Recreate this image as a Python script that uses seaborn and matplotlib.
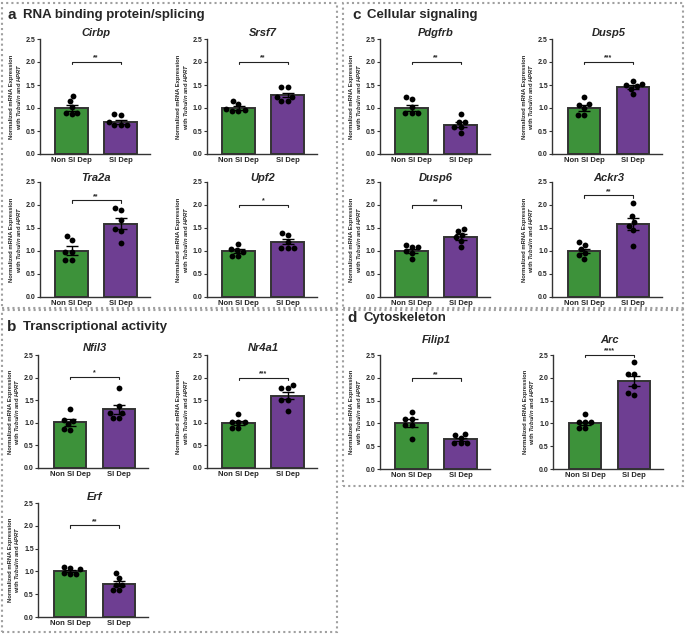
import matplotlib
matplotlib.use("Agg")
import pandas as pd
import matplotlib.pyplot as plt
from matplotlib.patches import Rectangle
from matplotlib.ticker import FormatStrFormatter
import seaborn as sns

# --- data ---
GROUPS = ["Non SI Dep", "SI Dep"]

NON_PTS = {
    "Cirbp": [1.26, 1.15, 1.03, 0.87, 0.90, 0.90],
    "Srsf7": [1.15, 1.08, 0.93, 0.94, 0.95, 0.97],
    "Tra2a": [1.32, 1.23, 0.98, 0.98, 0.81, 0.81],
    "Upf2": [1.16, 1.05, 1.03, 0.98, 0.89, 0.89],
    "Nfil3": [1.30, 1.07, 1.03, 0.97, 0.85, 0.86],
    "Nr4a1": [1.19, 1.02, 1.02, 1.02, 0.89, 0.89],
    "Erf": [1.10, 1.08, 1.05, 0.96, 0.94, 0.95],
    "Pdgfrb": [1.20, 1.24, 1.02, 0.89, 0.89, 0.89],
    "Dusp5": [1.24, 1.08, 1.06, 1.00, 0.85, 0.85],
    "Dusp6": [1.14, 1.09, 1.09, 1.00, 0.96, 0.83],
    "Ackr3": [1.19, 1.14, 1.05, 0.96, 0.91, 0.83],
    "Filip1": [1.24, 1.09, 1.09, 0.96, 0.96, 0.66],
    "Arc": [1.20, 1.04, 1.04, 1.04, 0.89, 0.89],
}
SI_PTS = {
    "Cirbp": [0.85, 0.86, 0.70, 0.63, 0.63, 0.63],
    "Srsf7": [1.45, 1.45, 1.25, 1.25, 1.16, 1.16],
    "Tra2a": [1.90, 1.93, 1.68, 1.47, 1.43, 1.18],
    "Upf2": [1.40, 1.34, 1.20, 1.06, 1.06, 1.06],
    "Nfil3": [1.78, 1.37, 1.21, 1.21, 1.10, 1.10],
    "Nr4a1": [1.83, 1.76, 1.78, 1.50, 1.50, 1.27],
    "Erf": [0.96, 0.85, 0.71, 0.71, 0.60, 0.60],
    "Pdgfrb": [0.86, 0.70, 0.70, 0.58, 0.58, 0.45],
    "Dusp5": [1.58, 1.52, 1.50, 1.47, 1.42, 1.30],
    "Dusp6": [1.48, 1.43, 1.34, 1.30, 1.22, 1.09],
    "Ackr3": [2.04, 1.76, 1.64, 1.55, 1.45, 1.10],
    "Filip1": [0.77, 0.75, 0.69, 0.56, 0.56, 0.56],
    "Arc": [2.35, 2.08, 2.08, 1.81, 1.62, 1.66],
}
MEANS = {
    "Cirbp": [1.00, 0.69], "Srsf7": [1.00, 1.28], "Tra2a": [1.01, 1.59],
    "Upf2": [1.00, 1.20], "Nfil3": [1.01, 1.30], "Nr4a1": [1.00, 1.60],
    "Erf": [1.00, 0.73], "Pdgfrb": [1.00, 0.64], "Dusp5": [1.00, 1.46],
    "Dusp6": [1.00, 1.30], "Ackr3": [1.00, 1.58], "Filip1": [1.01, 0.65],
    "Arc": [1.00, 1.92],
}
SEMS = {
    "Cirbp": [0.06, 0.04], "Srsf7": [0.04, 0.05], "Tra2a": [0.09, 0.12],
    "Upf2": [0.04, 0.05], "Nfil3": [0.07, 0.10], "Nr4a1": [0.04, 0.08],
    "Erf": [0.02, 0.06], "Pdgfrb": [0.06, 0.06], "Dusp5": [0.06, 0.04],
    "Dusp6": [0.04, 0.06], "Ackr3": [0.05, 0.13], "Filip1": [0.08, 0.04],
    "Arc": [0.04, 0.11],
}
STARS = {
    "Cirbp": "**", "Srsf7": "**", "Tra2a": "**", "Upf2": "*", "Nfil3": "*",
    "Nr4a1": "***", "Erf": "**", "Pdgfrb": "**", "Dusp5": "***", "Dusp6": "**",
    "Ackr3": "**", "Filip1": "**", "Arc": "****",
}
BRACKET_Y = {
    "Cirbp": 2.01, "Srsf7": 2.01, "Tra2a": 2.10, "Upf2": 2.01, "Nfil3": 2.01,
    "Nr4a1": 2.0, "Erf": 2.01, "Pdgfrb": 2.0, "Dusp5": 2.0, "Dusp6": 1.99,
    "Ackr3": 2.21, "Filip1": 1.99, "Arc": 2.5,
}
PANELS = [
    ("a", "RNA binding protein/splicing"),
    ("b", "Transcriptional activity"),
    ("c", "Cellular signaling"),
    ("d", "Cytoskeleton"),
]

# --- layout (pixels) ---
W, H = 685, 635
# gene: (center of first bar, y of 2.5, y of 0.0, y of title centre)
AX_POS = {
    "Cirbp": (71.5, 39, 154, 33), "Srsf7": (238.5, 39, 154, 33),
    "Tra2a": (71.5, 182, 297, 178), "Upf2": (238.5, 182, 297, 178),
    "Nfil3": (70, 355, 468, 348), "Nr4a1": (238.5, 355, 468, 348),
    "Erf": (70, 503, 617, 497),
    "Pdgfrb": (411.5, 39, 154, 33), "Dusp5": (584, 39, 154, 33),
    "Dusp6": (411.5, 182, 297, 178), "Ackr3": (584, 182, 297, 178),
    "Filip1": (411.5, 355, 469, 340), "Arc": (585, 355, 469, 340),
}
BOXES = [(2, 3, 337, 308), (2, 310, 337, 632), (343, 3, 683, 308), (343, 310, 683, 486)]
HEADER_POS = [(7, 23, 15), (7, 23, 327), (352, 367, 15), (347, 364, 318)]

GREEN = "#2fa02c"
PURPLE = "#7030a0"
EDGE = "#333333"

sns.set_style("ticks")
plt.rcParams["font.family"] = ["Liberation Sans", "DejaVu Sans"]
plt.rcParams["mathtext.fontset"] = "custom"
plt.rcParams["mathtext.rm"] = "Liberation Sans:bold"
plt.rcParams["mathtext.it"] = "Liberation Sans:italic:bold"

fig = plt.figure(figsize=(W / 100, H / 100), dpi=100)

unit = 49.0
xmin, xmax = -0.65, 1.6

for gene, (c0, ytop, ybot, ytitle) in AX_POS.items():
    left = c0 + xmin * unit
    width = (xmax - xmin) * unit
    ax = fig.add_axes([left / W, 1 - ybot / H, width / W, (ybot - ytop) / H])

    sns.barplot(x=GROUPS, y=MEANS[gene], hue=GROUPS, palette=[GREEN, PURPLE],
                legend=False, width=0.67, edgecolor=EDGE, linewidth=1.4,
                errorbar=None, ax=ax)
    ax.errorbar([0, 1], MEANS[gene], yerr=SEMS[gene], fmt="none", ecolor="black",
                elinewidth=1, capsize=4.5, capthick=1, zorder=3)

    df = pd.DataFrame({
        "group": [GROUPS[0]] * len(NON_PTS[gene]) + [GROUPS[1]] * len(SI_PTS[gene]),
        "value": NON_PTS[gene] + SI_PTS[gene],
    })
    sns.swarmplot(data=df, x="group", y="value", order=GROUPS, color="black",
                  size=4.2, ax=ax, zorder=4)

    h = BRACKET_Y[gene]
    ax.plot([0, 0, 1, 1], [h - 0.05, h, h, h - 0.05], color="#222222", lw=0.8,
            clip_on=False)
    ax.text(0.5, h + 0.01, STARS[gene], ha="center", va="bottom", fontsize=5,
            fontweight="bold", clip_on=False)

    ax.set_xlim(xmin, xmax)
    ax.set_ylim(0, 2.5)
    ax.set_yticks([0, 0.5, 1.0, 1.5, 2.0, 2.5])
    ax.yaxis.set_major_formatter(FormatStrFormatter("%.1f"))
    sns.despine(ax=ax)
    for s in ("left", "bottom"):
        ax.spines[s].set_linewidth(1.0)
        ax.spines[s].set_color(EDGE)
    ax.tick_params(axis="y", labelsize=5, length=2, width=0.8, pad=1, color=EDGE)
    ax.tick_params(axis="x", labelsize=5.5, length=0, pad=2)
    for lab in ax.get_xticklabels() + ax.get_yticklabels():
        lab.set_fontweight("bold")
    ax.set_xlabel("")
    ax.set_ylabel("Normalized mRNA Expression\nwith $\\it{Tubulin}$ and $\\it{HPRT}$",
                  fontsize=4.2, fontweight="bold", labelpad=2, linespacing=1.1)
    fig.text((c0 + 0.5 * unit) / W, 1 - ytitle / H, gene, ha="center", va="center",
             fontstyle="italic", fontweight="bold", fontsize=8)

for (x0, y0, x1, y1) in BOXES:
    fig.add_artist(Rectangle((x0 / W, 1 - y1 / H), (x1 - x0) / W, (y1 - y0) / H,
                             transform=fig.transFigure, fill=False,
                             ls=(0, (1, 1.5)), lw=1.5, ec="#a0a0a0"))

for (letter, title), (lx, tx, ty) in zip(PANELS, HEADER_POS):
    fig.text(lx / W, 1 - ty / H, letter, fontsize=11, fontweight="bold", va="center")
    fig.text(tx / W, 1 - ty / H, title, fontsize=9.5, fontweight="bold", va="center")

fig.savefig("out.png", dpi=100)
